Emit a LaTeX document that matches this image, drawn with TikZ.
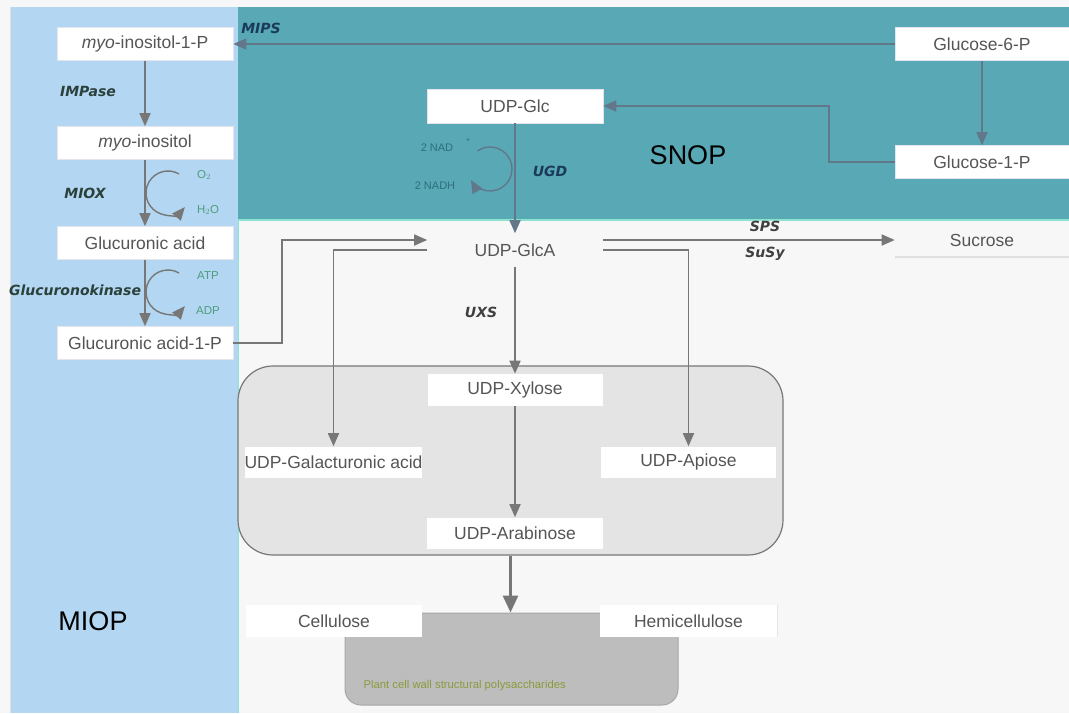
\documentclass[tikz,border=0pt]{standalone}
\usepackage{fontspec}
\setmainfont{Liberation Sans}
\newfontfamily\enzfont{DejaVu Sans Bold Oblique}
\usetikzlibrary{arrows.meta}

\definecolor{pagebg}{HTML}{F7F7F7}
\definecolor{miopblue}{HTML}{B3D7F2}
\definecolor{snopteal}{HTML}{58A8B5}
\definecolor{mint}{HTML}{8EE3CF}
\definecolor{linegray}{HTML}{777777}
\definecolor{slate}{HTML}{62788A}
\definecolor{txtgray}{HTML}{555555}
\definecolor{boxedge}{HTML}{E4E4EC}
\definecolor{enzdark}{HTML}{2B403A}
\definecolor{enznavy}{HTML}{1B3A5A}
\definecolor{cofgreen}{HTML}{4E9C7C}
\definecolor{cofteal}{HTML}{2F6F7C}
\definecolor{olive}{HTML}{8C9A3C}
\definecolor{groupfill}{HTML}{E4E4E4}
\definecolor{wallfill}{HTML}{BDBDBD}

\begin{document}
\begin{tikzpicture}[x=1pt,y=-1pt,
  box/.style={fill=white, draw=boxedge, line width=0.6pt, minimum width=176pt,
    minimum height=33pt, inner sep=0pt, text=txtgray,
    font=\fontsize{17.5}{20}\selectfont},
  plainbox/.style={box, fill=none, draw=none},
  tip/.style={-{Triangle[length=13pt,width=11pt]}},
  flow/.style={draw=linegray, line width=1.7pt, tip},
  flowslate/.style={draw=slate, line width=1.7pt, tip},
  cofarc/.style={draw=linegray, line width=1.4pt, tip},
  nadarc/.style={draw=slate, line width=1.4pt, tip},
  enz/.style={font=\enzfont\fontsize{14}{16}\selectfont},
  cof/.style={font=\fontsize{11.5}{13}\selectfont, text=cofgreen},
  nad/.style={font=\fontsize{11}{13}\selectfont, text=cofteal},
  region/.style={font=\fontsize{27}{30}\selectfont}
]
\useasboundingbox (0,0) rectangle (1069,713);

% backgrounds of the two pathways
\fill[pagebg] (0,0) rectangle (1069,713);
\fill[miopblue] (10,7) rectangle (238,713);
\fill[snopteal] (238,7) rectangle (1069,220);
\draw[mint, line width=1.5pt] (238,220) -- (1069,220);
\draw[mint, line width=1.2pt] (238.5,220) -- (238.5,713);
\draw[black!12, line width=0.8pt] (10.5,7) -- (10.5,713);

% nucleotide-sugar group and cell wall block
\node[fill=groupfill, draw=linegray, line width=1.2pt, rounded corners=35pt,
  minimum width=545pt, minimum height=189pt, inner sep=0pt] (grp) at (510.5,460.5) {};
\node[fill=wallfill, draw=black!35, line width=1pt, rounded corners=16pt,
  minimum width=333pt, minimum height=92pt, inner sep=0pt] (wall) at (511.5,659) {};
\node[anchor=west, text=olive, font=\fontsize{11.3}{13}\selectfont] (walltxt) at (360,686)
  {Plant cell wall structural polysaccharides};

% metabolites
\node[box] (mi1p) at (145,44) {\textit{myo}-inositol-1-P};
\node[box] (mi)   at (145,143) {\textit{myo}-inositol};
\node[box] (gla)  at (145,243) {Glucuronic acid};
\node[box] (gla1p) at (145,343) {Glucuronic acid-1-P};
\node[box, minimum width=174pt] (g6p) at (982,44) {Glucose-6-P};
\node[box, minimum width=174pt] (g1p) at (982,162) {Glucose-1-P};
\node[box, minimum height=34pt] (glc) at (515,106) {UDP-Glc};
\node[plainbox, minimum width=175pt] (gca) at (515,250) {UDP-GlcA};
\node[plainbox, minimum width=174pt] (suc) at (982,240) {Sucrose};
\draw[black!12, line width=2pt] (895,257) -- (1069,257);
\node[box, draw=none, minimum width=175pt, minimum height=32pt] (xyl) at (515,390) {UDP-Xylose};
\node[box, draw=none, minimum width=175pt, minimum height=31pt] (gal) at (333.5,462) {UDP-Galacturonic acid};
\node[box, draw=none, minimum width=175pt, minimum height=31pt] (api) at (688.5,462) {UDP-Apiose};
\node[box, draw=none, minimum width=176pt, minimum height=31pt] (ara) at (515,533) {UDP-Arabinose};
\node[box, draw=none, minimum width=176pt, minimum height=32pt] (cel) at (334,621) {Cellulose};
\node[box, draw=none, minimum width=177pt, minimum height=32pt] (hemi) at (688.5,621) {Hemicellulose};
\draw[black!10, line width=1pt] (777.5,605) -- (777.5,637);

% region labels
\node[region] (snop) at (688,155) {SNOP};
\node[region] (miop) at (93,621) {MIOP};

% myo-inositol oxygenation pathway
\draw[flowslate] (g6p.west) -- (mi1p.east);
\draw[flow] (mi1p.south) -- (mi.north);
\draw[flow] (mi.south) -- (gla.north);
\draw[flow] (gla.south) -- (gla1p.north);
\draw[flow] (gla1p.east) -- ++(49,0) |- ([yshift=10pt]gca.west);

% sugar nucleotide oxidation pathway
\draw[flowslate] (g6p.south) -- (g1p.north);
\draw[flowslate] (g1p.west) -- ++(-66,0) |- (glc.east);
\draw[flowslate] (glc.south) -- (gca.north);
\draw[flow] ([yshift=10pt]gca.east) -- (suc.west);
\draw[flow] (gca.west) -| (gal.north);
\draw[flow] (gca.east) -| (api.north);
\draw[flow] (gca.south) -- (xyl.north);
\draw[flow] (xyl.south) -- (ara.north);
\draw[draw=linegray, line width=3pt, -{Triangle[length=17pt,width=15pt]}]
  (grp.south) -- (grp.south |- wall.north);

% cofactor arcs
\draw[cofarc] (168,193) ++(300:22) arc[start angle=300, end angle=40, radius=22];
\draw[cofarc] (168,292) ++(300:22) arc[start angle=300, end angle=40, radius=22];
\draw[nadarc] (490,169) ++(235:22) arc[start angle=235, end angle=510, radius=22];

% enzymes
\node[enz, text=enznavy] (mips) at (261,28) {MIPS};
\node[enz, text=enzdark] (impase) at (88,91) {IMPase};
\node[enz, text=enzdark] (miox) at (85,193) {MIOX};
\node[enz, text=enzdark] (gk) at (75,290) {Glucuronokinase};
\node[enz, text=enznavy] (ugd) at (550,171) {UGD};
\node[enz, text=black!75] (uxs) at (481,312) {UXS};
\node[enz, text=black!75] (sps) at (765,226) {SPS};
\node[enz, text=black!75] (susy) at (765,254) {SuSy};

% cofactors
\node[cof] (o2) at (204,175) {O$_2$};
\node[cof] (h2o) at (208,210) {H$_2$O};
\node[cof] (atp) at (208,276) {ATP};
\node[cof] (adp) at (208,311) {ADP};
\node[nad] (nadp) at (437,148) {2 NAD};
\node[nad, font=\fontsize{7.5}{8}\selectfont] (plus) at (468,140) {+};
\node[nad] (nadh) at (435,186) {2 NADH};
\end{tikzpicture}
\end{document}
